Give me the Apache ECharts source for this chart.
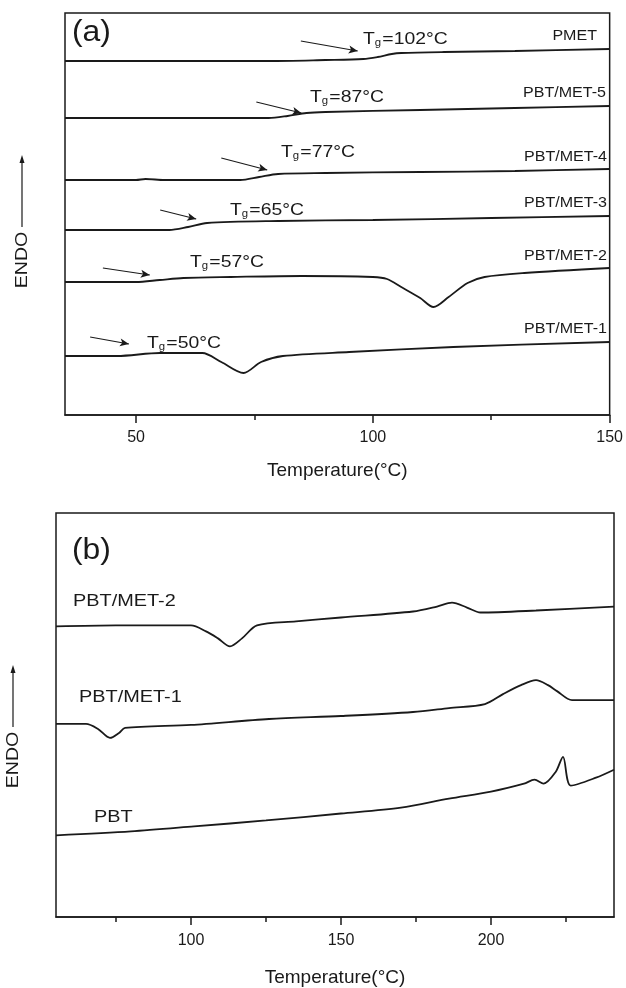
<!DOCTYPE html>
<html>
<head>
<meta charset="utf-8">
<script src="https://cdn.jsdelivr.net/npm/echarts@6/dist/echarts.min.js"></script>
<style>
html, body { margin: 0; padding: 0; background: #fff; }
#chart { width: 626px; height: 988px; }
</style>
</head>
<body>
<div id="chart"></div>
<script>
// ---- data (temperature in C, heat flow in arbitrary units) ----
// panel (a)
var aPMET   = [[35,354],[60,354],[78,354],[90,355],[98,356],[101,358],[104,361],[106,362],[115,363],[130,364],[150,366]];
var aMET5   = [[35,297],[78,297],[82,299],[86,302],[90,303],[110,305],[130,307],[150,309]];
var aMET4   = [[35,235],[50,235],[52,236],[56,235],[72,235],[76,238],[80,241],[90,242],[110,243],[130,244],[150,246]];
var aMET3   = [[35,185],[57,185],[61,188],[65,192],[80,194],[100,195],[125,197],[150,199]];
var aMET2   = [[35,133],[50,133],[55,135],[60,137],[70,138],[85,139],[100,138],[103,136],[106,128],[110,117],[112.8,108],[116,118],[120,132],[123.6,138],[132,142],[150,147]];
var aMET1   = [[35,59],[46,59],[55,62],[64,62],[68,53],[72.7,42],[76.4,53],[81,59],[95,63],[117,68],[150,73]];
// panel (b)
var bMET2   = [[55,292],[75,293],[100,293],[105,287],[109,280],[113,272],[117,280],[122,293],[135,297],[150,301],[174,307],[182,312],[187,316],[192,311],[196.5,306],[215,308],[241,312]];
var bMET1   = [[55,194],[65,194],[69,189],[73,180],[76,185],[78,190],[100,193],[126,199],[150,202],[174,206],[186,210],[198,214],[204,224],[210,233],[215,238],[219,233],[222,227],[227,218],[235,218],[241,218]];
var bPBT    = [[55,82],[80,86],[101,91],[125,97],[150,104],[170,110],[186,119],[200,126],[211,134],[214.5,138],[217.5,134],[221.6,146],[224,161],[226.6,132],[235,140],[241,148]];

var aMajor = [50, 100, 150];
var aMinor = [75, 125];
var bMajor = [100, 150, 200];
var bMinor = [75, 125, 175, 225];

// Tg arrows: [from, to] in data units
var tgArrows = [
  [[84.8,374],[96.8,364]],
  [[75.4,313],[84.9,302]],
  [[68.0,257],[77.7,245]],
  [[55.1,205],[62.7,196]],
  [[43.0,147],[52.9,140]],
  [[40.3,78],[48.5,71]]
];
var tgValues = ['102', '87', '77', '65', '57', '50'];

var FONT = '"Liberation Sans", Arial, sans-serif';
var INK = '#1a1a1a';

var chart = echarts.init(document.getElementById('chart'));

function curve(name, data, axis) {
  return {
    name: name,
    type: 'line',
    xAxisIndex: axis,
    yAxisIndex: axis == 0 ? 0 : 1,
    data: data,
    showSymbol: false,
    smooth: 0.3,
    lineStyle: { color: INK, width: 1.8 },
    silent: true
  };
}

function majorAxis(grid, min, max, ticks) {
  return {
    type: 'value', gridIndex: grid, min: min, max: max, position: 'bottom',
    name: 'Temperature(°C)', nameLocation: 'middle', nameGap: grid == 0 ? 46 : 51,
    nameTextStyle: { fontFamily: FONT, fontSize: 19, color: INK },
    axisLine: { show: true, lineStyle: { color: INK, width: 1.5 } },
    axisTick: { show: true, inside: false, length: 8, customValues: ticks, lineStyle: { color: INK, width: 1.5 } },
    axisLabel: { show: true, customValues: ticks, margin: grid == 0 ? 15 : 16, fontFamily: FONT, fontSize: 16, color: INK },
    splitLine: { show: false }
  };
}

function minorAxis(grid, min, max, ticks) {
  return {
    type: 'value', gridIndex: grid, min: min, max: max, position: 'bottom',
    axisLine: { show: false },
    axisTick: { show: true, inside: false, length: 5, customValues: ticks, lineStyle: { color: INK, width: 1.5 } },
    axisLabel: { show: false },
    splitLine: { show: false }
  };
}

var arrowSeries = {
  type: 'line', xAxisIndex: 0, yAxisIndex: 0, data: [], silent: true,
  markLine: {
    silent: true, animation: false,
    label: { show: false },
    lineStyle: { color: INK, width: 1.2, type: 'solid' },
    symbol: ['none', 'arrow'], symbolSize: [6, 9],
    data: tgArrows.map(function (a) {
      return [{ coord: a[0], symbol: 'none' }, { coord: a[1], symbol: 'arrow' }];
    })
  }
};

// Tg label pixel positions (left, middle)
var tgPos = [[363,39],[310,97],[281,152],[230,210],[190,262],[147,343]];
var aLabelPos = [['PMET',597,36],['PBT/MET-5',606,93],['PBT/MET-4',607,157],['PBT/MET-3',607,203],['PBT/MET-2',607,256],['PBT/MET-1',607,329]];
var bLabelPos = [['PBT/MET-2',73,601],['PBT/MET-1',79,697],['PBT',94,817]];

var graphics = [];
tgPos.forEach(function (p, i) {
  graphics.push({
    type: 'text', x: p[0], y: p[1], scaleX: 1.14, silent: true,
    style: {
      text: '{t|T}{s|g}{t|=' + tgValues[i] + '°C}',
      textVerticalAlign: 'middle',
      rich: {
        t: { fontFamily: FONT, fontSize: 17, fill: INK },
        s: { fontFamily: FONT, fontSize: 10, fill: INK, padding: [8, 1, 0, 0] }
      }
    }
  });
});
aLabelPos.forEach(function (p) {
  graphics.push({ type: 'text', x: p[1], y: p[2], scaleX: 1.07, silent: true,
    style: { text: p[0], textAlign: 'right', textVerticalAlign: 'middle', fontFamily: FONT, fontSize: 15, fill: INK } });
});
bLabelPos.forEach(function (p) {
  graphics.push({ type: 'text', x: p[1], y: p[2], scaleX: 1.17, silent: true,
    style: { text: p[0], textAlign: 'left', textVerticalAlign: 'middle', fontFamily: FONT, fontSize: 17, fill: INK } });
});
graphics.push({ type: 'text', x: 72, y: 33, scaleX: 1.1, silent: true,
  style: { text: '(a)', textVerticalAlign: 'middle', fontFamily: FONT, fontSize: 29, fill: INK } });
graphics.push({ type: 'text', x: 72, y: 551, scaleX: 1.1, silent: true,
  style: { text: '(b)', textVerticalAlign: 'middle', fontFamily: FONT, fontSize: 29, fill: INK } });

// ENDO with arrow
function endo(cx, cy, lineTop, lineBottom) {
  graphics.push({ type: 'text', x: cx, y: cy, rotation: Math.PI / 2, scaleX: 1.15, silent: true,
    style: { text: 'ENDO', textAlign: 'center', textVerticalAlign: 'middle', fontFamily: FONT, fontSize: 17, fill: INK } });
  graphics.push({ type: 'line', silent: true,
    shape: { x1: cx, y1: lineBottom, x2: cx, y2: lineTop + 6 }, style: { stroke: INK, lineWidth: 1.2 } });
  graphics.push({ type: 'polygon', silent: true,
    shape: { points: [[cx, lineTop], [cx - 2.5, lineTop + 8], [cx + 2.5, lineTop + 8]] }, style: { fill: INK } });
}
endo(22, 260, 155, 227);
endo(13, 760, 665, 727);

chart.setOption({
  animation: false,
  backgroundColor: '#fff',
  grid: [
    { left: 65, top: 13, width: 547, height: 402, show: true, borderColor: INK, borderWidth: 1.5, backgroundColor: 'transparent' },
    { left: 56, top: 513, width: 558, height: 406, show: true, borderColor: INK, borderWidth: 1.5, backgroundColor: 'transparent' }
  ],
  xAxis: [
    majorAxis(0, 35, 150, aMajor),
    majorAxis(1, 55, 241, bMajor),
    minorAxis(0, 35, 150, aMinor),
    minorAxis(1, 55, 241, bMinor)
  ],
  yAxis: [
    { type: 'value', gridIndex: 0, min: 0, max: 402, show: false },
    { type: 'value', gridIndex: 1, min: 0, max: 406, show: false }
  ],
  series: [
    curve('PMET', aPMET, 0),
    curve('PBT/MET-5', aMET5, 0),
    curve('PBT/MET-4', aMET4, 0),
    curve('PBT/MET-3', aMET3, 0),
    curve('PBT/MET-2', aMET2, 0),
    curve('PBT/MET-1', aMET1, 0),
    curve('PBT/MET-2', bMET2, 1),
    curve('PBT/MET-1', bMET1, 1),
    curve('PBT', bPBT, 1),
    arrowSeries
  ],
  graphic: graphics
});
</script>
</body>
</html>
